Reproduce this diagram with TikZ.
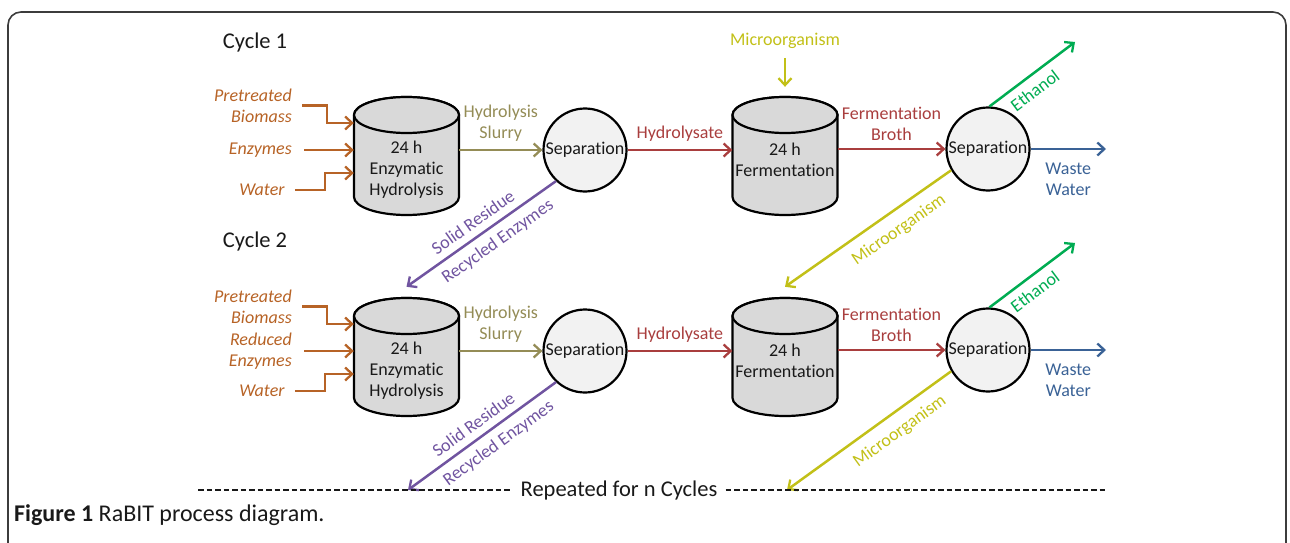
\documentclass[tikz,border=0pt]{standalone}
\usepackage{fontspec}
\setmainfont{Carlito}[Ligatures=NoCommon]
\usetikzlibrary{arrows.meta,calc}
\definecolor{inbrown}{RGB}{183,99,38}
\definecolor{slurry}{RGB}{148,140,86}
\definecolor{hred}{RGB}{169,62,62}
\definecolor{micro}{RGB}{194,192,24}
\definecolor{ethgreen}{RGB}{0,172,82}
\definecolor{wblue}{RGB}{58,98,150}
\definecolor{resid}{RGB}{112,84,160}
\definecolor{tankfill}{RGB}{217,217,217}
\definecolor{sepfill}{RGB}{242,242,242}
\definecolor{framecol}{RGB}{60,60,60}
\definecolor{txt}{RGB}{25,25,25}
\newcommand\tankbody[2]{%
  \filldraw[tank] ({#1-52.5},{#2+18}) -- ({#1-52.5},{#2+100})
    arc[start angle=180,end angle=360,x radius=52.5pt,y radius=18pt]
    -- ({#1+52.5},{#2+18})
    arc[start angle=0,end angle=180,x radius=52.5pt,y radius=18pt] -- cycle;
  \draw[tank] (#1,{#2+18}) ellipse[x radius=52.5pt,y radius=18pt];}
\begin{document}
\begin{tikzpicture}[x=1pt,y=-1pt,
  lbl/.style={font=\fontsize{18}{21}\selectfont, align=center, inner sep=0pt},
  inlbl/.style={lbl, font=\fontsize{18}{21}\selectfont\itshape, text=inbrown, align=right},
  big/.style={font=\fontsize{22.5}{26}\selectfont, text=txt, inner sep=0pt},
  tank/.style={draw=black, line width=2.2pt, fill=tankfill},
  tanktext/.style={lbl, text=txt, minimum width=105pt, minimum height=146pt},
  ferttext/.style={lbl, text=txt, minimum width=105pt, minimum height=126pt},
  sep/.style={circle, draw=black, line width=2.2pt, fill=sepfill, minimum size=83pt, inner sep=0pt,
    font=\fontsize{18}{20}\selectfont, text=txt},
  flow/.style={line width=2.5pt, -{Straight Barb[length=7pt,width=13pt,line width=2.3pt]}},
  inflow/.style={flow, draw=inbrown},
  dashline/.style={line width=2pt, dash pattern=on 5.5pt off 3pt, draw=txt}]
\useasboundingbox (0,0) rectangle (1290,543);
\begin{scope}
\clip (0,0) rectangle (1290,543);
\draw[framecol, line width=1.6pt, rounded corners=13pt] (8,600) -- (8,12) -- (1286,12) -- (1286,600);
\end{scope}

% ---------- Cycle labels ----------
\node[big] (c1) at (255,43) {Cycle 1};
\node[big] (c2) at (255,241) {Cycle 2};

% ---------- tanks ----------
\tankbody{406.5}{97}
\tankbody{785}{97}
\tankbody{406.5}{298}
\tankbody{785}{298}
\node[tanktext] (h1) at (406.5,170) {24 h\\Enzymatic\\Hydrolysis};
\node[ferttext] (f1) at (785,160) {24 h\\Fermentation};
\node[tanktext] (h2) at (406.5,371) {24 h\\Enzymatic\\Hydrolysis};
\node[ferttext] (f2) at (785,361) {24 h\\Fermentation};

% ---------- separators ----------
\node[sep] (s1) at (585,150) {Separation};
\node[sep] (s2) at (988,149) {Separation};
\node[sep] (s3) at (585,351) {Separation};
\node[sep] (s4) at (988,350) {Separation};

% ---------- inputs, cycle 1 ----------
\node[inlbl, anchor=east] (pb1) at (292,105.5) {Pretreated\\Biomass};
\node[inlbl, anchor=east] (en1) at (292,150) {Enzymes};
\node[inlbl] (wa1) at (262,190) {Water};
\draw[inflow] ([xshift=10pt]pb1.east) -- ++(25,0) |- ([yshift=47pt]h1.west);
\draw[inflow] ([xshift=12pt]en1.east) -- (en1.east -| h1.west);
\draw[inflow] ([xshift=10pt]wa1.east) -- ++(30,0) |- ([yshift=-3pt]h1.west);

% ---------- inputs, cycle 2 ----------
\node[inlbl, anchor=east] (pb2) at (292,306.5) {Pretreated\\Biomass};
\node[inlbl, anchor=east] (en2) at (292,351) {Reduced\\Enzymes};
\node[inlbl] (wa2) at (262,391) {Water};
\draw[inflow] ([xshift=10pt]pb2.east) -- ++(25,0) |- ([yshift=47pt]h2.west);
\draw[inflow] ([xshift=12pt]en2.east) -- (en2.east -| h2.west);
\draw[inflow] ([xshift=10pt]wa2.east) -- ++(30,0) |- ([yshift=-3pt]h2.west);

% ---------- main flows ----------
\foreach \h/\s/\f/\t in {h1/s1/f1/s2, h2/s3/f2/s4}{
  \draw[flow, slurry] (\h.east |- \s.west) -- (\s.west)
    node[lbl, midway, above=7pt, text=slurry] {Hydrolysis\\Slurry};
  \draw[flow, hred] (\s.east) -- (\s.east -| \f.west)
    node[lbl, midway, above=7pt, text=hred] {Hydrolysate};
  \draw[flow, hred] (\f.east |- \t.west) -- (\t.west)
    node[lbl, midway, above=7pt, text=hred] {Fermentation\\Broth};
}

% ---------- microorganism feed ----------
\node[lbl, text=micro] (m0) at (785,41) {Microorganism};
\draw[flow, micro] ([yshift=-9pt]m0.south) -- ([yshift=10pt]f1.north);

% ---------- outputs ----------
\coordinate (e1) at (1075,42);
\coordinate (e2) at (1075,243);
\coordinate (w1) at (1106,149);
\coordinate (w2) at (1106,350);
\draw[flow, ethgreen] (s2.88) -- (e1) node[lbl, pos=0.43, sloped, below=7pt, text=ethgreen] {Ethanol};
\draw[flow, ethgreen] (s4.88) -- (e2) node[lbl, pos=0.43, sloped, below=7pt, text=ethgreen] {Ethanol};
\draw[flow, wblue] (s2.east) -- (w1) node[lbl, pos=0.5, below=13pt, text=wblue] {Waste\\Water};
\draw[flow, wblue] (s4.east) -- (w2) node[lbl, pos=0.5, below=13pt, text=wblue] {Waste\\Water};

% ---------- recycle lines ----------
\coordinate (d1) at (408,490);
\coordinate (d2) at (787,490);
\draw[flow, resid] (s1.227) -- ([yshift=11pt]h2.north)
  node[lbl, pos=0.5, sloped, above=7pt, text=resid] {Solid Residue}
  node[lbl, pos=0.45, sloped, below=7pt, text=resid] {Recycled Enzymes};
\draw[flow, resid] (s3.227) -- (d1)
  node[lbl, pos=0.5, sloped, above=7pt, text=resid] {Solid Residue}
  node[lbl, pos=0.45, sloped, below=7pt, text=resid] {Recycled Enzymes};
\draw[flow, micro] (s2.210) -- ([yshift=11pt]f2.north)
  node[lbl, pos=0.38, sloped, below=10pt, text=micro] {Microorganism};
\draw[flow, micro] (s4.210) -- (d2)
  node[lbl, pos=0.38, sloped, below=10pt, text=micro] {Microorganism};

% ---------- repeat line ----------
\node[big] (rep) at (619,490) {Repeated for n Cycles};
\coordinate (dl) at (198,490);
\coordinate (dr) at (1105,490);
\draw[dashline] (dl) -- ([xshift=-9pt]rep.west);
\draw[dashline] ([xshift=8pt]rep.east) -- (dr);

% ---------- caption ----------
\node[anchor=west, inner sep=0pt, text=txt, font=\fontsize{24}{28}\selectfont] (cap) at (14,515)
  {\textbf{Figure 1} RaBIT process diagram.};
\end{tikzpicture}
\end{document}
